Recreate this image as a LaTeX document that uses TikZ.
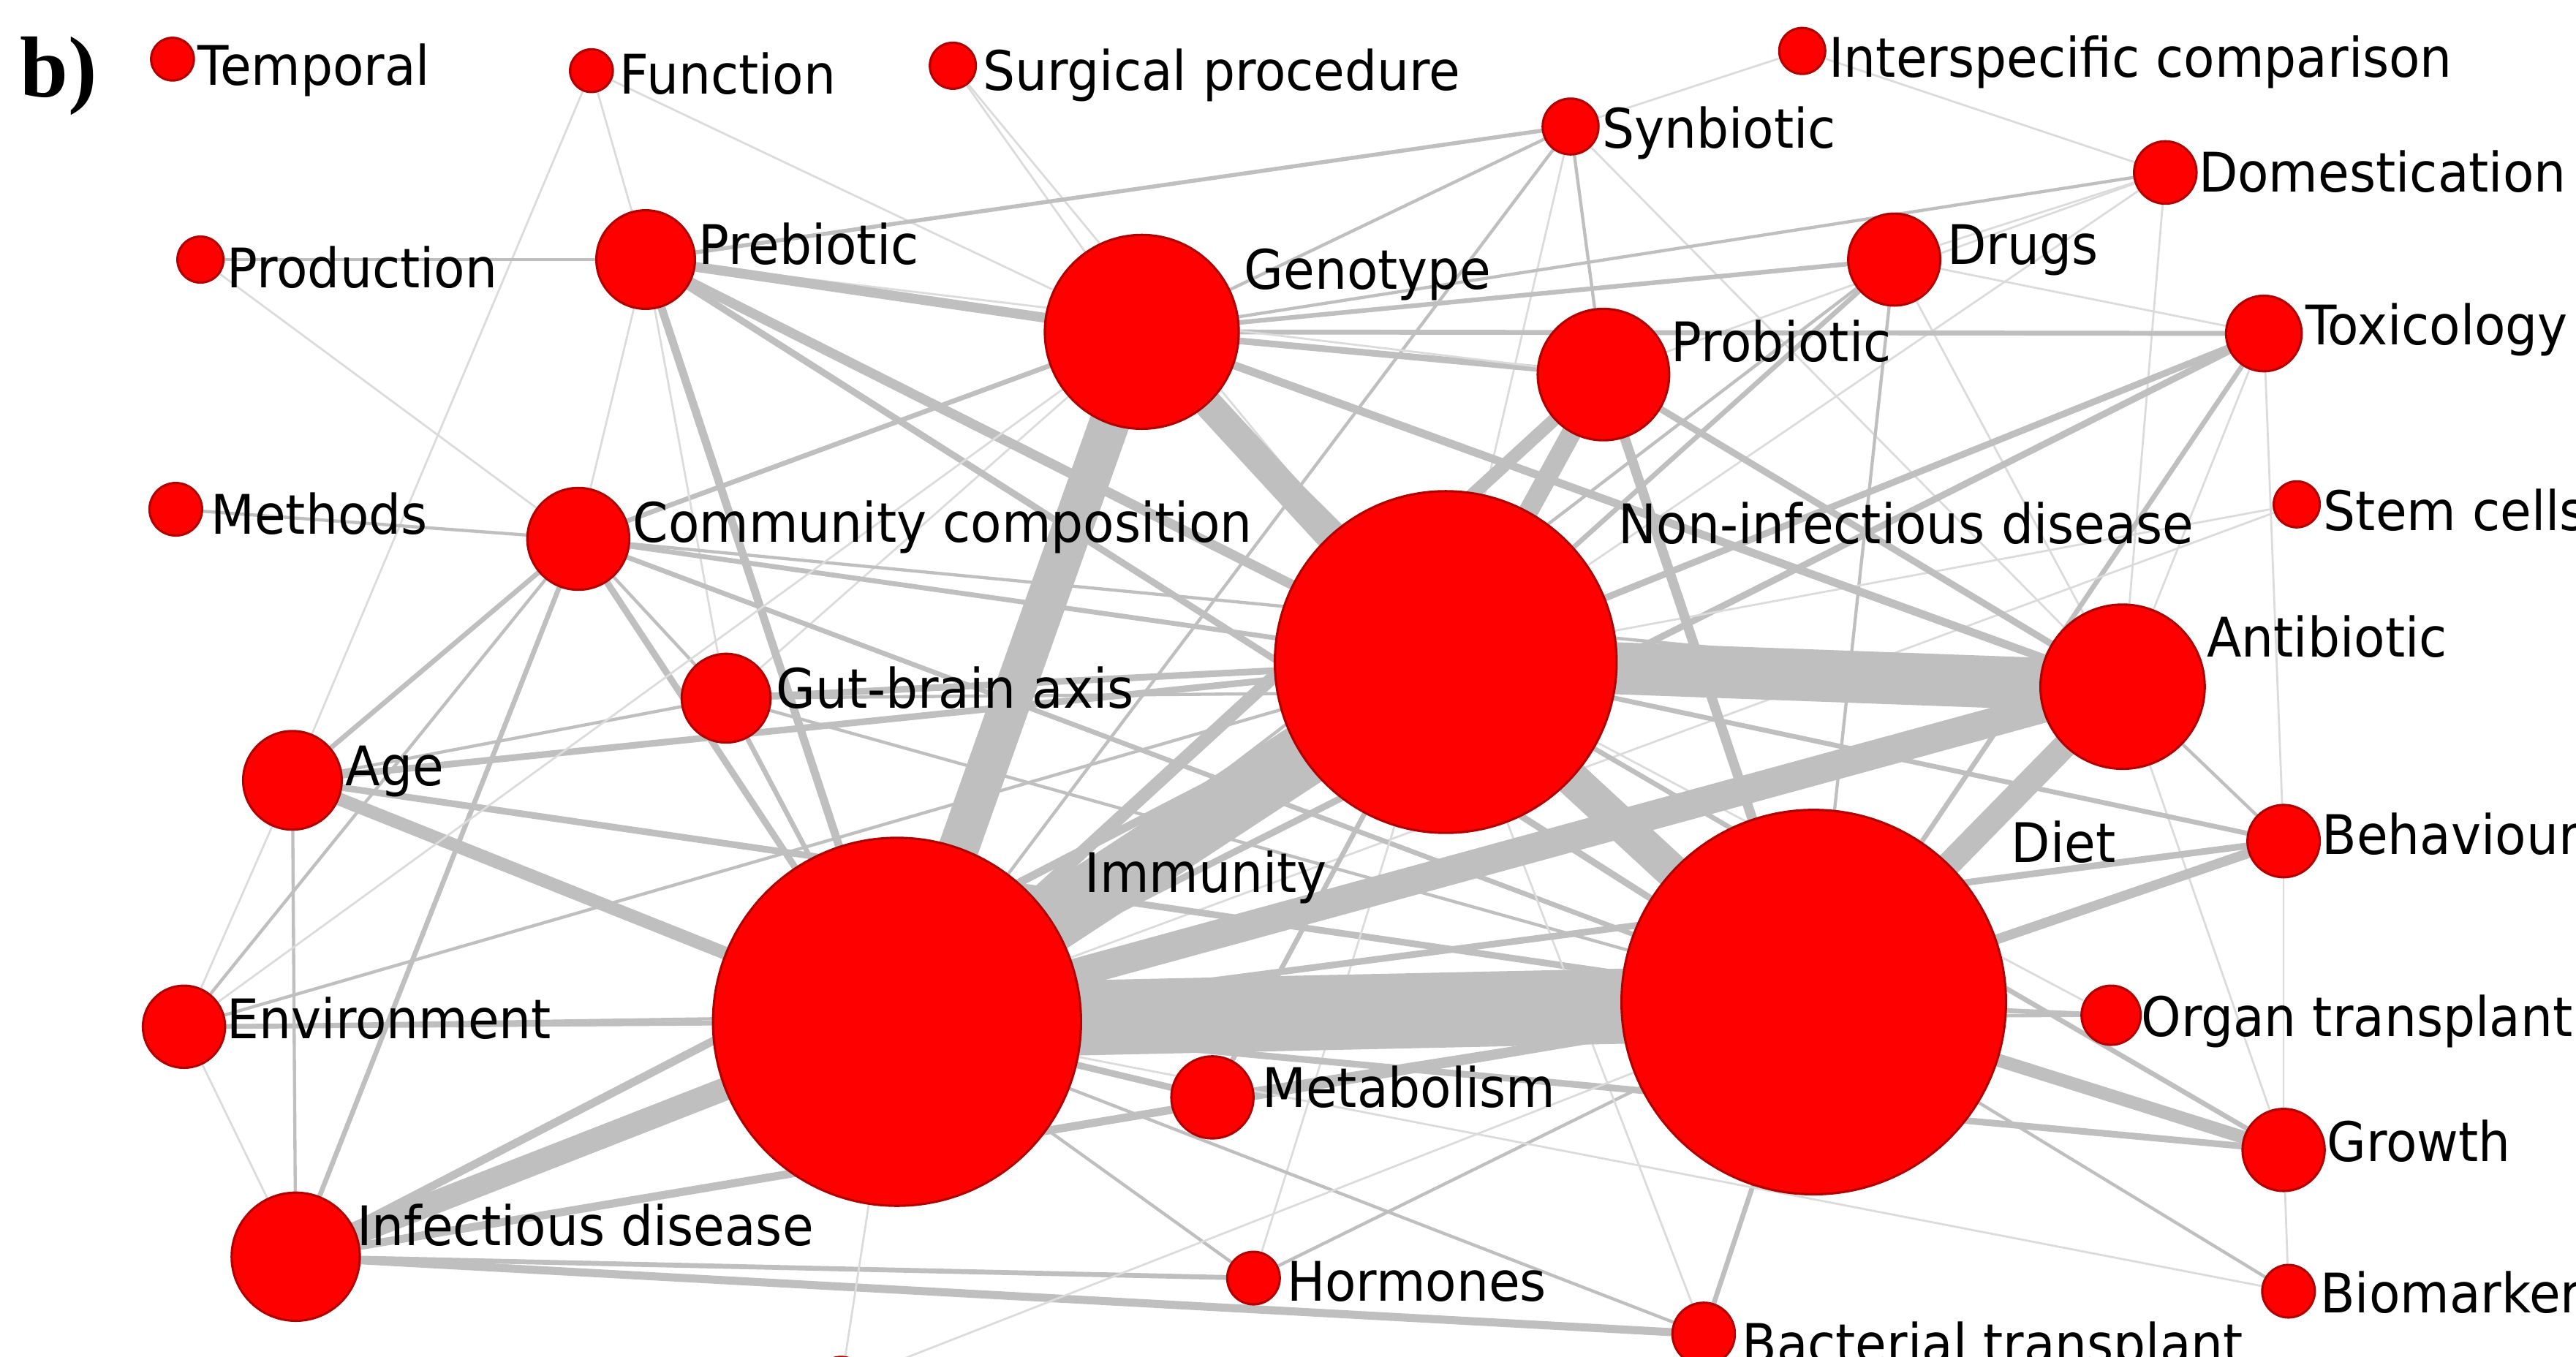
\documentclass[tikz,border=0pt]{standalone}
\usepackage{fontspec}
\setmainfont{Liberation Serif}
\newfontfamily\labfont[FakeStretch=0.93]{DejaVu Sans}
\usetikzlibrary{backgrounds}

\begin{document}
\begin{tikzpicture}[x=0.2mm,y=-0.2mm,
  nd/.style={circle,fill=red,draw=red!70!black,line width=0.8pt,inner sep=0pt,minimum size=#1*0.4mm},
  lab/.style={anchor=base west,inner sep=0pt,font=\labfont\fontsize{18.9}{20}\selectfont},
  lnk/.style={draw=gray!50,line width=#1},
  lnk/.default=1.1pt,
  thn/.style={draw=gray!28,line width=0.7pt}]
\useasboundingbox (0,0) rectangle (1568,826);

\node[anchor=base west,inner sep=0pt,font=\bfseries\fontsize{30}{32}\selectfont] (tag) at (12,59) {b)};

% nodes
\node[nd=13] (tmp) at (105,36) {};
\node[nd=13] (fun) at (360,43) {};
\node[nd=14] (surg) at (580,40) {};
\node[nd=14] (inter) at (1097,31) {};
\node[nd=17] (syn) at (956,77) {};
\node[nd=19] (dom) at (1318,105) {};
\node[nd=14] (prod) at (122,158) {};
\node[nd=30] (preb) at (393,158) {};
\node[nd=59] (gen) at (695,202) {};
\node[nd=28] (drug) at (1153,158) {};
\node[nd=23] (tox) at (1378,203) {};
\node[nd=40] (prob) at (976,228) {};
\node[nd=16] (meth) at (107,310) {};
\node[nd=31] (comm) at (352,328) {};
\node[nd=14] (stem) at (1398,307) {};
\node[nd=104] (nid) at (880,403) {};
\node[nd=50] (anti) at (1292,418) {};
\node[nd=27] (gba) at (442,425) {};
\node[nd=30] (age) at (178,475) {};
\node[nd=22] (beh) at (1390,512) {};
\node[nd=112] (imm) at (546,622) {};
\node[nd=117] (diet) at (1104,610) {};
\node[nd=25] (env) at (112,625) {};
\node[nd=18] (organ) at (1285,618) {};
\node[nd=25] (metab) at (738,668) {};
\node[nd=25] (grow) at (1390,700) {};
\node[nd=39] (inf) at (180,765) {};
\node[nd=16] (horm) at (763,778) {};
\node[nd=16] (bio) at (1393,786) {};
\node[nd=19] (bact) at (1037,812) {};
\node[nd=16] (bot) at (512,842) {};

% labels
\node[lab] (tmpL) at (120,52) {Temporal};
\node[lab] (funL) at (377,57) {Function};
\node[lab] (surgL) at (598,55) {Surgical procedure};
\node[lab] (interL) at (1113,47) {Interspecific comparison};
\node[lab] (synL) at (975,90) {Synbiotic};
\node[lab] (domL) at (1338,117) {Domestication};
\node[lab] (prodL) at (138,175) {Production};
\node[lab] (prebL) at (425,161) {Prebiotic};
\node[lab] (genL) at (757,176) {Genotype};
\node[lab] (drugL) at (1185,161) {Drugs};
\node[lab] (toxL) at (1403,210) {Toxicology};
\node[lab] (probL) at (1017,220) {Probiotic};
\node[lab] (methL) at (128,325) {Methods};
\node[lab] (commL) at (385,330) {Community composition};
\node[lab] (nidL) at (985,331) {Non-infectious disease};
\node[lab] (stemL) at (1414,323) {Stem cells};
\node[lab] (antiL) at (1343,400) {Antibiotic};
\node[lab] (gbaL) at (472,431) {Gut-brain axis};
\node[lab] (ageL) at (210,478) {Age};
\node[lab] (immL) at (660,543) {Immunity};
\node[lab] (dietL) at (1224,525) {Diet};
\node[lab] (behL) at (1413,520) {Behaviour};
\node[lab] (envL) at (138,632) {Environment};
\node[lab] (organL) at (1303,631) {Organ transplant};
\node[lab] (metabL) at (768,674) {Metabolism};
\node[lab] (growL) at (1416,707) {Growth};
\node[lab] (infL) at (217,758) {Infectious disease};
\node[lab] (hormL) at (783,792) {Hormones};
\node[lab] (bioL) at (1412,799) {Biomarker};
\node[lab] (bactL) at (1060,830) {Bacterial transplant};

% links
\begin{scope}[on background layer]
\draw[thn] (fun.center) -- (preb.center);
\draw[thn] (fun.center) -- (age.center);
\draw[thn] (fun.center) -- (gen.center);
\draw[thn] (prod.center) -- (comm.center);
\draw[lnk] (prod.center) -- (preb.center);
\draw[lnk] (meth.center) -- (comm.center);
\draw[thn] (surg.center) -- (gen.center);
\draw[thn] (surg.center) -- (nid.center);
\draw[lnk=1.4pt] (preb.center) -- (syn.center);
\draw[thn] (inter.center) -- (syn.center);
\draw[thn] (inter.center) -- (dom.center);
\draw[lnk] (syn.center) -- (gen.center);
\draw[lnk] (syn.center) -- (imm.center);
\draw[lnk] (syn.center) -- (prob.center);
\draw[thn] (syn.center) -- (nid.center);
\draw[thn] (syn.center) -- (anti.center);
\draw[lnk] (dom.center) -- (gen.center);
\draw[thn] (dom.center) -- (drug.center);
\draw[thn] (dom.center) -- (prob.center);
\draw[thn] (dom.center) -- (nid.center);
\draw[thn] (dom.center) -- (anti.center);
\draw[lnk=1.6pt] (drug.center) -- (gen.center);
\draw[thn] (drug.center) -- (tox.center);
\draw[lnk=1.7pt] (drug.center) -- (nid.center);
\draw[lnk] (drug.center) -- (imm.center);
\draw[thn] (drug.center) -- (anti.center);
\draw[lnk] (drug.center) -- (diet.center);
\draw[lnk=1.7pt] (gen.center) -- (tox.center);
\draw[lnk=2.3pt] (tox.center) -- (nid.center);
\draw[lnk=2.3pt] (tox.center) -- (imm.center);
\draw[lnk=1.7pt] (tox.center) -- (diet.center);
\draw[thn] (tox.center) -- (anti.center);
\draw[thn] (tox.center) -- (beh.center);
\draw[thn] (stem.center) -- (nid.center);
\draw[thn] (stem.center) -- (imm.center);
\draw[lnk=6.8pt] (prob.center) -- (nid.center);
\draw[lnk=4.5pt] (prob.center) -- (imm.center);
\draw[lnk=3.4pt] (prob.center) -- (diet.center);
\draw[lnk=2.3pt] (prob.center) -- (anti.center);
\draw[lnk=2.3pt] (prob.center) -- (gen.center);
\draw[thn] (prob.center) -- (preb.center);
\draw[lnk=10pt] (gen.center) -- (nid.center);
\draw[lnk=14pt] (gen.center) -- (imm.center);
\draw[lnk=3.4pt] (gen.center) -- (diet.center);
\draw[lnk=2.8pt] (gen.center) -- (anti.center);
\draw[lnk=1.7pt] (gen.center) -- (comm.center);
\draw[lnk=3.4pt] (gen.center) -- (preb.center);
\draw[thn] (gen.center) -- (gba.center);
\draw[lnk=2.8pt] (preb.center) -- (imm.center);
\draw[lnk=3.4pt] (preb.center) -- (nid.center);
\draw[lnk=2.3pt] (preb.center) -- (diet.center);
\draw[thn] (preb.center) -- (comm.center);
\draw[thn] (preb.center) -- (gba.center);
\draw[lnk=2.3pt] (comm.center) -- (imm.center);
\draw[lnk=1.7pt] (comm.center) -- (nid.center);
\draw[lnk=1.7pt] (comm.center) -- (diet.center);
\draw[lnk=1.7pt] (comm.center) -- (age.center);
\draw[lnk=1.7pt] (comm.center) -- (inf.center);
\draw[lnk] (comm.center) -- (env.center);
\draw[lnk] (comm.center) -- (gba.center);
\draw[lnk] (comm.center) -- (anti.center);
\draw[lnk=1.7pt] (gba.center) -- (imm.center);
\draw[lnk=2.3pt] (gba.center) -- (nid.center);
\draw[lnk] (gba.center) -- (diet.center);
\draw[lnk] (gba.center) -- (anti.center);
\draw[lnk=4.5pt] (age.center) -- (imm.center);
\draw[lnk=2.3pt] (age.center) -- (nid.center);
\draw[lnk=2.3pt] (age.center) -- (diet.center);
\draw[lnk] (age.center) -- (inf.center);
\draw[thn] (age.center) -- (env.center);
\draw[lnk] (age.center) -- (gba.center);
\draw[lnk=1.7pt] (env.center) -- (imm.center);
\draw[lnk] (env.center) -- (diet.center);
\draw[thn] (env.center) -- (inf.center);
\draw[lnk] (env.center) -- (nid.center);
\draw[thn] (env.center) -- (gen.center);
\draw[lnk=8pt] (inf.center) -- (imm.center);
\draw[lnk=2.8pt] (inf.center) -- (nid.center);
\draw[lnk=2.8pt] (inf.center) -- (diet.center);
\draw[lnk=1.7pt] (inf.center) -- (horm.center);
\draw[lnk=2.8pt] (inf.center) -- (bact.center);
\draw[lnk=2.3pt] (metab.center) -- (imm.center);
\draw[lnk=2.3pt] (metab.center) -- (diet.center);
\draw[lnk=1.7pt] (metab.center) -- (nid.center);
\draw[lnk] (horm.center) -- (imm.center);
\draw[lnk] (horm.center) -- (diet.center);
\draw[thn] (horm.center) -- (nid.center);
\draw[lnk] (bact.center) -- (imm.center);
\draw[lnk=1.7pt] (bact.center) -- (diet.center);
\draw[thn] (bact.center) -- (nid.center);
\draw[lnk=1.7pt] (organ.center) -- (diet.center);
\draw[lnk] (organ.center) -- (imm.center);
\draw[thn] (organ.center) -- (nid.center);
\draw[lnk=4.5pt] (grow.center) -- (diet.center);
\draw[lnk=2.3pt] (grow.center) -- (imm.center);
\draw[lnk=1.7pt] (grow.center) -- (nid.center);
\draw[thn] (grow.center) -- (anti.center);
\draw[thn] (grow.center) -- (bio.center);
\draw[thn] (grow.center) -- (beh.center);
\draw[lnk=3.4pt] (beh.center) -- (diet.center);
\draw[lnk=2.3pt] (beh.center) -- (imm.center);
\draw[lnk=1.7pt] (beh.center) -- (nid.center);
\draw[lnk] (beh.center) -- (anti.center);
\draw[lnk] (bio.center) -- (diet.center);
\draw[thn] (bio.center) -- (imm.center);
\draw[thn] (bot.center) -- (imm.center);
\draw[thn] (bot.center) -- (diet.center);
\draw[lnk=8.5pt] (anti.center) -- (diet.center);
\draw[lnk=18pt] (anti.center) -- (nid.center);
\draw[lnk=10pt] (anti.center) -- (imm.center);
\draw[lnk=26pt] (imm.center) -- (diet.center);
\draw[lnk=22pt] (imm.center) -- (nid.center);
\draw[lnk=12pt] (nid.center) -- (diet.center);
\end{scope}
\end{tikzpicture}
\end{document}
